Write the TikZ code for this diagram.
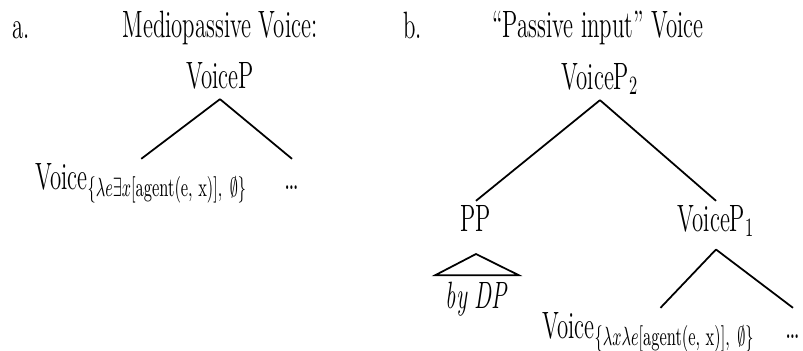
\documentclass[tikz,border=0pt]{standalone}
\usepackage{amsmath,amssymb}
\usepackage{tikz}
\usetikzlibrary{positioning}

\begin{document}
\begin{tikzpicture}[x=0.012cm, y=-0.012cm, line width=0.6pt,
    cat/.style={font=\fontsize{13}{15}\selectfont, xscale=0.6, anchor=base, inner xsep=0pt, inner ysep=3.5pt, text height=6.5pt, text depth=0pt},
    head/.style={font=\fontsize{13}{15}\selectfont, xscale=0.6, anchor=base, inner sep=0pt}]

  \useasboundingbox (0,0) rectangle (803,350);

  % Arbol a: voz mediopasiva
  \node[head, anchor=base west] (taga) at (12,38) {a.};
  \node[head] (titlea) at (220,37) {Mediopassive Voice:};
  \node[cat] (vpa) at (220,88) {VoiceP};
  \node[cat, anchor=base west] (voicea) at (35,189) {Voice$_{\{\lambda e\exists x[\text{agent(e, x)}],\ \emptyset\}}$};
  \node[cat] (dotsa) at (292,189) {\dots};

  \draw (vpa.south) -- (voicea.north);
  \draw (vpa.south) -- (dotsa.north);

  % Arbol b: voz con entrada pasiva
  \node[head, anchor=base west] (tagb) at (403,38) {b.};
  \node[head] (titleb) at (598,37) {``Passive input'' Voice};
  \node[cat] (vp2) at (600,89) {VoiceP$_2$};
  \node[cat] (pp) at (476,231) {PP};
  \node[cat] (vp1) at (716,231) {VoiceP$_1$};
  \node[cat, inner xsep=5.7pt, inner ysep=4.4pt] (dp) at (477,308) {\textit{by DP}};
  \node[cat, anchor=base west] (voiceb) at (542,338) {Voice$_{\{\lambda x\lambda e[\text{agent(e, x)}],\ \emptyset\}}$};
  \node[cat] (dotsb) at (793,338) {\dots};
  \coordinate (roof) at (476,254);

  \draw (vp2.south) -- (pp.north);
  \draw (vp2.south) -- (vp1.north);
  \draw (dp.north west) -- (roof) -- (dp.north east) -- cycle;
  \draw ([yshift=-2.5pt]vp1.south) -- ([xshift=0.144cm]voiceb.north);
  \draw ([yshift=-2.5pt]vp1.south) -- (dotsb.north);

\end{tikzpicture}
\end{document}
